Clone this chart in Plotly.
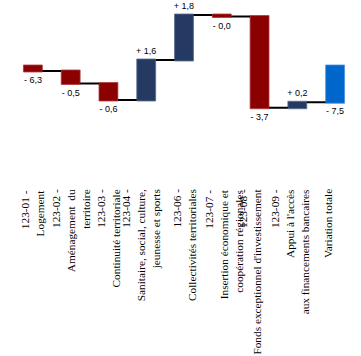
import plotly.graph_objects as go

categories = [
    "123-01 -<br>Logement",
    "123-02 -<br>Aménagement  du<br>territoire",
    "123-03 -<br>Continuité territoriale",
    "123-04 -<br>Sanitaire, social, culture,<br>jeunesse et sports",
    "123-06 -<br>Collectivités territoriales",
    "123-07 -<br>Insertion économique et<br>coopération régionales",
    "123-08 -<br>Fonds exceptionnel d'investissement",
    "123-09 -<br>Appui à l'accès<br>aux financements bancaires",
    "Variation totale",
]
# bar heights as drawn in the picture (visual scale)
bar_values = [-0.2, -0.5, -0.66, 1.6, 1.8, -0.06, -3.65, 0.22, 0]
measures = ["relative"] * 8 + ["total"]
# value labels printed on the chart
value_labels = ["- 6,3", "- 0,5", "- 0,6", "+ 1,6", "+ 1,8", "- 0,0", "- 3,7", "+ 0,2", "- 7,5"]

# small horizontal nudges of the category labels (style, in px)
label_nudge = [0, 0, 0, -6, 0, 1.5, -10, -7.5, -7.5]

fig = go.Figure(go.Waterfall(
    x=categories,
    y=bar_values,
    measure=measures,
    text=value_labels,
    textposition="outside",
    textfont=dict(family="Liberation Sans, Arial, sans-serif", size=9, color="black"),
    constraintext="none",
    cliponaxis=False,
    decreasing=dict(marker=dict(color="#8B0000", line=dict(color="#b03a3a", width=0.8))),
    increasing=dict(marker=dict(color="#243A63", line=dict(color="#5a6c90", width=0.8))),
    totals=dict(marker=dict(color="#0066CC", line=dict(color="#4a90e0", width=0.8))),
    connector=dict(mode="between", line=dict(color="black", width=2)),
    hoverinfo="skip",
))

for cat, dx in zip(categories, label_nudge):
    fig.add_annotation(
        x=cat, xref="x", y=0, yref="paper",
        text=cat, textangle=-90, showarrow=False,
        xanchor="center", yanchor="top", align="right",
        xshift=dx, yshift=-24,
        font=dict(family="Liberation Serif, Times New Roman, serif", size=11.3, color="black"),
    )

fig.update_layout(
    width=361, height=356,
    margin=dict(l=13.5, r=6.5, t=0, b=193),
    paper_bgcolor="white", plot_bgcolor="white",
    showlegend=False,
    waterfallgap=0.5,
    xaxis=dict(
        showticklabels=False,
        showgrid=False, showline=False, zeroline=False, ticks="",
    ),
    yaxis=dict(
        range=[-3.88, 2.64],
        visible=False, showgrid=False, zeroline=False,
    ),
)

fig.write_html("out.html", config={"displayModeBar": False},
               post_script="document.body.style.margin='0';")
